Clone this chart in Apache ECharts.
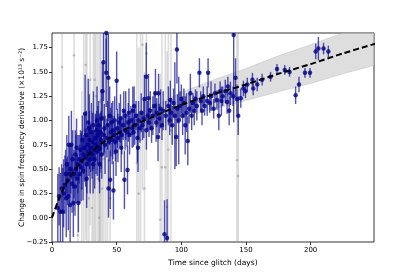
<!DOCTYPE html>
<html><head><meta charset="utf-8">
<script src="https://cdn.jsdelivr.net/npm/echarts@6/dist/echarts.min.js"></script>
<style>html,body{margin:0;padding:0;background:#fff}#c{width:415px;height:277px}</style>
</head><body><div id="c"></div>
<script>
const xTicks = [0, 50, 100, 150, 200];
const yTicks = [-0.25, 0, 0.25, 0.5, 0.75, 1.0, 1.25, 1.5, 1.75];
const xMin = 0, xMax = 249, yMin = -0.25, yMax = 1.9;

// fit curve
const fitDays   = [0, 5, 10, 15, 20, 25, 30, 40, 50, 60, 75, 100, 125, 150, 175, 200, 225, 250];
const fitValues = [0, 0.18, 0.33, 0.44, 0.53, 0.61, 0.67, 0.78, 0.86, 0.93, 1.02, 1.16, 1.27, 1.37, 1.48, 1.58, 1.69, 1.79];
const bandLower = [0, 0.17, 0.31, 0.41, 0.49, 0.56, 0.615, 0.715, 0.785, 0.845, 0.92, 1.03, 1.12, 1.205, 1.295, 1.38, 1.48, 1.57];
const bandUpper = [0, 0.19, 0.35, 0.47, 0.57, 0.66, 0.725, 0.845, 0.935, 1.015, 1.12, 1.29, 1.42, 1.535, 1.665, 1.78, 1.9, 2.01];

// [day, value, error] - grey (rejected) points
const greyPoints = [
 [7.8,1.55,1.4],[17,1.67,1.6],[20,-0.18,0.8],[23,0.3,1.0],[24.5,0.9,2.2],[26,1.57,1.8],[27,0.9,2.5],[28.5,0.2,1.2],[29.5,1.42,1.5],
 [31,0.1,1.0],[32,0.5,2.0],[33,1.42,1.8],[34,1.25,1.6],[35.5,0.4,1.7],[36.5,0.0,1.0],[37,1.19,2.2],[37.7,1.21,1.8],[38.8,0.3,1.2],
 [40,0.6,1.6],[41.5,1.0,1.5],[43,0.95,1.3],[45,0.2,0.9],[65.6,0.56,1.6],[67,0.25,1.5],[68.5,0.8,2.0],[70,1.78,1.5],[71.5,0.3,1.2],
 [73,1.69,1.2],[83.7,-0.02,1.5],[85,0.52,1.4],[87.6,0.52,1.6],[89,0.11,1.6],[90,0.70,1.6],[92,0.9,1.5],[143,0.59,2.2],[144,0.43,2.2]
];

// [day, value, error] - blue (accepted) points
const bluePoints = [
 [4.5,0.10,0.35],[5.5,0.22,0.30],[6.5,0.06,0.40],[7.5,0.30,0.25],[8.3,0.06,0.45],[9,0.25,0.35],[10,0.34,0.30],[10.5,0.45,0.25],
 [11,0.20,0.40],[11.5,0.55,0.30],[12,0.38,0.25],[12.6,0.22,0.35],[13,0.75,0.30],[13.5,0.45,0.30],[14,0.13,0.40],[14.5,0.50,0.25],
 [15,0.75,0.35],[15.5,0.35,0.30],[16,0.60,0.30],[16.5,0.15,0.35],[17,0.45,0.25],[17.8,0.32,0.30],[18,0.65,0.25],[18.5,0.50,0.35],
 [19,0.72,0.30],[19.5,0.40,0.25],[20,0.55,0.30],[20.4,0.15,0.30],
 [21,0.60,0.25],[21.5,0.45,0.30],[22,0.70,0.20],[22.5,0.52,0.35],[23,0.59,0.30],[23.5,0.80,0.25],[24,0.48,0.30],[24.5,0.65,0.20],
 [25,0.72,0.35],[25.6,1.07,0.40],[26,0.62,0.30],[26.5,0.85,0.25],[27,0.55,0.30],[27.5,0.75,0.20],[28,0.98,0.45],[28.5,0.68,0.25],
 [29,0.80,0.30],[29.5,0.60,0.35],[30,0.72,0.25],[26.8,0.40,0.30],[28.8,0.92,0.35],[31.8,0.55,0.30],[34.8,1.00,0.35],
 [30.5,0.88,0.30],[31,0.65,0.25],[31.5,0.78,0.30],[32,0.95,0.35],[32.5,0.70,0.20],[33,0.60,0.30],[33.5,0.82,0.25],[34,0.75,0.30],
 [34.5,0.90,0.20],[35,0.68,0.25],[35.5,0.85,0.30],[36,0.95,0.25],[36.5,0.72,0.35],[37,0.71,0.25],[37.5,0.88,0.20],[38,0.80,0.30],
 [38.5,0.65,0.25],[39,1.30,0.30],[39.8,1.60,0.40],[40,0.85,0.20],[36.8,0.55,0.30],[38.2,1.02,0.30],
 [40.5,0.92,0.25],[41,0.75,0.30],[41.9,1.49,0.35],[42,1.90,0.40],[42.5,0.82,0.20],[43,0.95,0.25],[43.6,1.44,0.45],[43.7,0.30,0.30],
 [44,0.78,0.20],[45,0.39,0.30],[45.5,0.88,0.25],[46,0.98,0.20],[46.5,0.80,0.25],[47,0.90,0.30],[47.5,0.28,0.30],[48,0.85,0.20],
 [48.5,1.00,0.25],[49,0.78,0.20],[50,1.41,0.30],[50.5,0.92,0.20],[44.6,1.05,0.30],[49.5,0.68,0.25],
 [51,0.82,0.25],[52,0.98,0.20],[52.5,0.88,0.15],[53,1.02,0.25],[54,0.85,0.20],[55,0.95,0.15],[56,0.39,0.30],[56.5,0.90,0.20],
 [57,1.05,0.25],[58,0.88,0.15],[58.4,0.49,0.25],[59,0.98,0.20],[60,0.85,0.20],[53.5,0.72,0.25],[55.5,1.10,0.20],[59.5,1.08,0.25],
 [61,1.00,0.15],[62,0.92,0.20],[62.5,1.10,0.25],[63,0.88,0.15],[64,0.95,0.20],[65,1.05,0.15],[66,0.82,0.25],[67,1.00,0.20],
 [68,0.92,0.15],[69,1.08,0.20],[70,0.95,0.15],[63.5,1.15,0.20],[66.5,0.72,0.25],
 [71,1.02,0.20],[71.5,1.22,0.25],[72.9,1.45,0.35],[73,0.90,0.20],[74,1.05,0.15],[74.6,1.23,0.25],[75,0.98,0.15],[76,1.10,0.20],
 [77,0.92,0.15],[78,1.05,0.20],[79,1.15,0.15],[80,1.28,0.25],[80.5,0.98,0.20],
 [81,1.08,0.15],[82,0.83,0.25],[82.4,1.28,0.20],[83,1.02,0.15],[84,1.12,0.20],[85,0.95,0.15],[86,1.10,0.20],[87,-0.17,0.35],
 [88,1.05,0.15],[89,-0.21,0.40],[90,1.15,0.20],[91,1.00,0.15],[91.5,1.21,0.20],[92,1.08,0.15],[93,0.95,0.20],[94,1.18,0.15],
 [95,1.05,0.55],[96,0.83,0.30],[96.6,1.73,0.35],[97,1.12,0.15],[98,1.00,0.45],[99,1.15,0.15],[100,1.22,0.15],
 [101,1.05,0.20],[102,1.18,0.15],[103,0.95,0.30],[104,1.08,0.20],[105,0.79,0.25],[106,1.12,0.15],[107,1.28,0.20],[108,1.05,0.15],
 [109,1.18,0.10],[110,1.10,0.15],[111,1.22,0.10],[112,1.15,0.15],[114,1.49,0.15],[115,1.20,0.10],[116,1.10,0.15],[117,1.25,0.10],
 [118,1.15,0.10],[120,1.20,0.15],[120.7,1.49,0.15],[122,1.18,0.10],[123,1.25,0.15],[125,1.12,0.10],[126,1.28,0.10],[127.6,1.21,0.10],
 [129,1.05,0.15],[130,1.30,0.10],[131,1.20,0.15],[132,1.25,0.10],[134,1.30,0.12],[135.4,1.19,0.12],[136,1.35,0.10],[137,1.10,0.15],
 [138,1.28,0.12],[140,1.25,0.10],[140.5,1.88,0.90],[141.9,1.44,0.20],[143,1.22,0.15],[144,1.05,0.20],[146,1.23,0.10],[148,1.33,0.08],
 [149.6,1.30,0.07],
 [151,1.37,0.07],[155,1.42,0.07],[155.6,1.33,0.07],[158.7,1.37,0.07],[162.5,1.42,0.06],[169,1.45,0.05],[174,1.53,0.05],[180,1.52,0.05],
 [183.7,1.50,0.05],[188.4,1.26,0.09],[191,1.37,0.08],[195.6,1.49,0.05],[199.5,1.49,0.05],[203.9,1.71,0.08],[206,1.74,0.12],[210,1.74,0.06],
 [213.7,1.71,0.06]
];

const FONT = 'DejaVu Sans';
const clampY = v => Math.max(yMin, Math.min(yMax, v));

function errBar(color, width) {
  return function (params, api) {
    const t = api.value(0), y = api.value(1), e = api.value(2);
    const p1 = api.coord([t, clampY(y - e)]);
    const p2 = api.coord([t, clampY(y + e)]);
    return { type: 'line', shape: { x1: p1[0], y1: p1[1], x2: p2[0], y2: p2[1] },
             style: { stroke: color, lineWidth: width } };
  };
}

const chart = echarts.init(document.getElementById('c'), null, { renderer: 'canvas' });
chart.setOption({
  animation: false,
  backgroundColor: '#fff',
  grid: { left: 52, right: 41, top: 33, bottom: 35, show: true, borderColor: '#333', borderWidth: 1, backgroundColor: 'transparent' },
  xAxis: {
    type: 'value', min: xMin, max: xMax,
    name: 'Time since glitch (days)', nameLocation: 'middle', nameGap: 17,
    nameTextStyle: { fontFamily: FONT, fontSize: 7.5, color: '#000' },
    axisLine: { show: false, onZero: false },
    axisTick: { show: true, inside: false, length: 3, lineStyle: { color: '#333' }, customValues: xTicks },
    axisLabel: { fontFamily: FONT, fontSize: 7, color: '#000', margin: 5, customValues: xTicks },
    splitLine: { show: false }
  },
  yAxis: {
    type: 'value', min: yMin, max: yMax,
    name: 'Change in spin frequency derivative (×10¹³ s⁻²)', nameLocation: 'middle', nameGap: 26, nameRotate: 90,
    nameMoveOverlap: false,
    nameTextStyle: { fontFamily: FONT, fontSize: 7.5, color: '#000' },
    axisLine: { show: false, onZero: false },
    axisTick: { show: true, inside: false, length: 3, lineStyle: { color: '#333' }, customValues: yTicks },
    axisLabel: { fontFamily: FONT, fontSize: 7, color: '#000', margin: 4, customValues: yTicks,
      formatter: v => (v < 0 ? '\u2212' : '') + Math.abs(v).toFixed(2) },
    splitLine: { show: false }
  },
  series: [
    { type: 'custom', name: 'greyErr', data: greyPoints, clip: true, z: 1,
      encode: { x: 0, y: 1 }, renderItem: errBar('rgba(150,150,150,0.32)', 1.6) },
    { type: 'scatter', name: 'grey', data: greyPoints.map(p => [p[0], p[1]]), symbolSize: 2.5, z: 2,
      itemStyle: { color: 'rgba(150,150,150,0.7)' } },
    { type: 'custom', name: 'band', data: [[0, 0]], clip: true, z: 3,
      renderItem: function (params, api) {
        const pts = [];
        for (let i = 0; i < fitDays.length; i++) pts.push(api.coord([fitDays[i], clampY(bandUpper[i])]));
        for (let i = fitDays.length - 1; i >= 0; i--) pts.push(api.coord([fitDays[i], clampY(bandLower[i])]));
        return { type: 'polygon', shape: { points: pts },
                 style: { fill: 'rgba(200,200,200,0.6)', stroke: 'rgba(165,165,165,0.5)', lineWidth: 0.6 } };
      } },
    { type: 'custom', name: 'blueErr', data: bluePoints, clip: true, z: 4,
      encode: { x: 0, y: 1 }, renderItem: errBar('rgba(15,15,150,0.72)', 1.4) },
    { type: 'scatter', name: 'blue', data: bluePoints.map(p => [p[0], p[1]]), symbolSize: 4.5, z: 5,
      itemStyle: { color: '#00008b' } },
    { type: 'line', name: 'fit', data: fitDays.map((d, i) => [d, fitValues[i]]), smooth: 0.3,
      showSymbol: false, z: 6, lineStyle: { color: '#000', width: 2, type: [6, 3] } }
  ]
});
</script></body></html>
